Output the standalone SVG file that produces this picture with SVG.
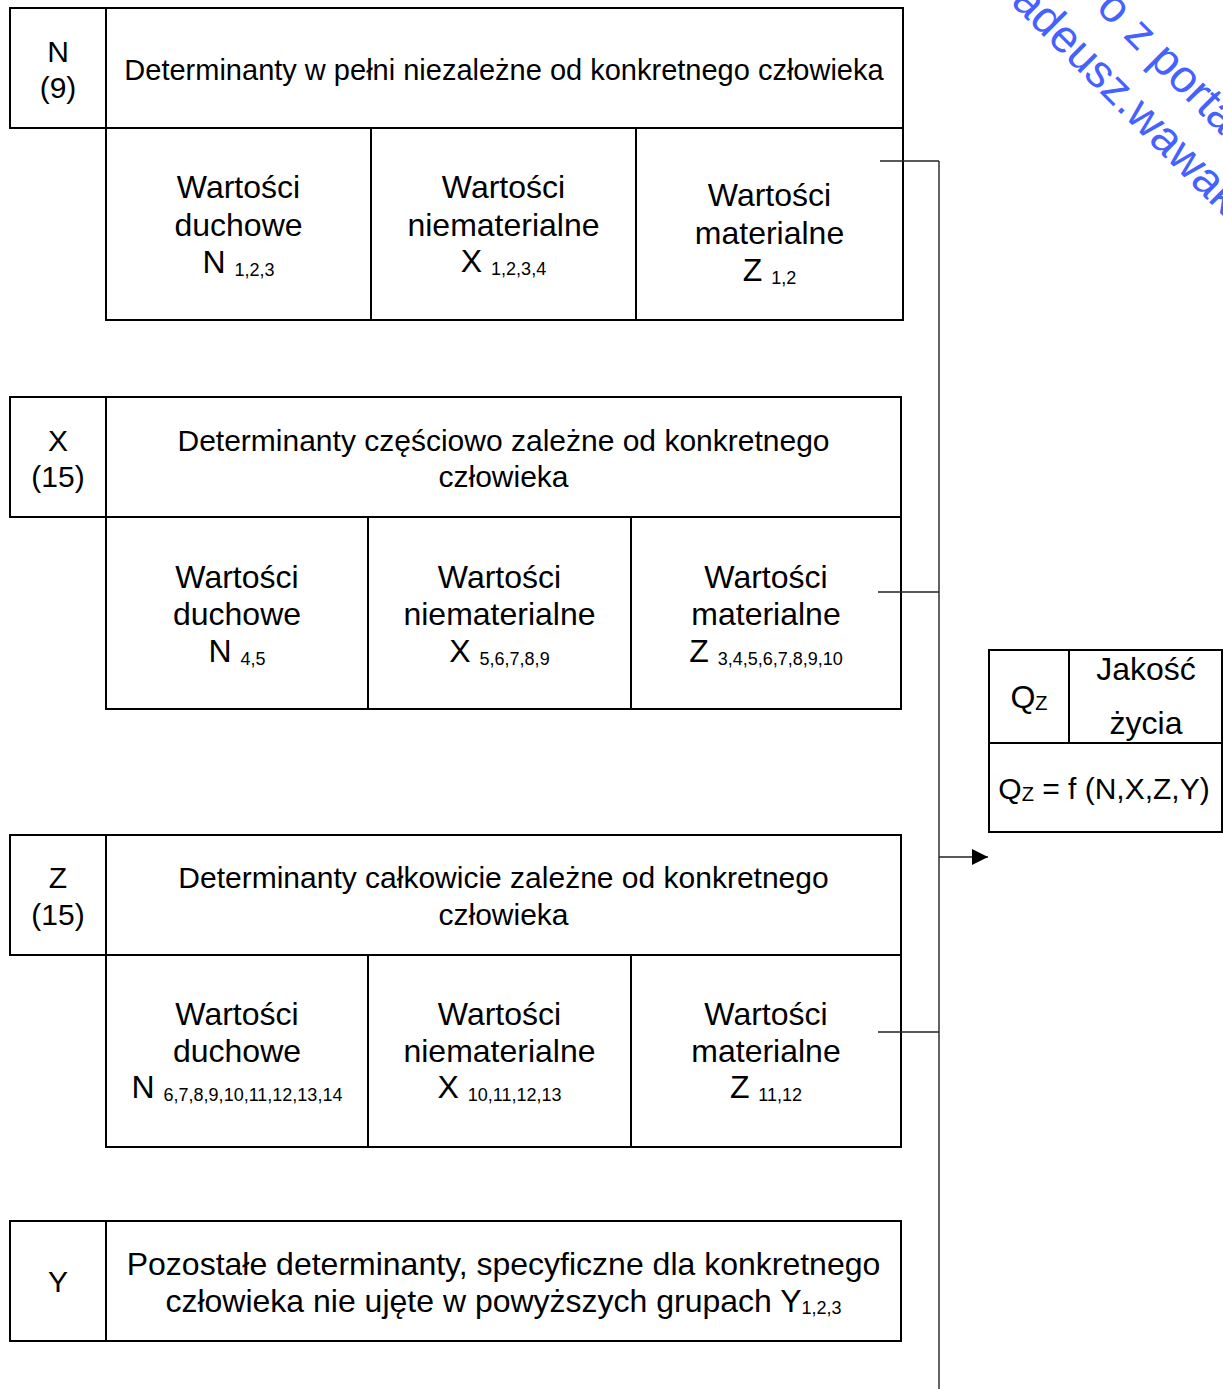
<svg xmlns="http://www.w3.org/2000/svg" width="1223" height="1389" viewBox="0 0 1223 1389">
<style>
  .box { fill: #ffffff; stroke: #000000; stroke-width: 2; }
  .ln { fill: none; stroke: #000000; stroke-width: 2; }
  .con { fill: none; stroke: #222222; stroke-width: 1.4; }
  text { font-family: "Liberation Sans", Arial, sans-serif; fill: #000000; text-anchor: middle; }
  .t32 { font-size: 32px; }
  .t30 { font-size: 30px; }
  .t29 { font-size: 29px; }
  .sub { font-size: 18px; }
  .subq { font-size: 20px; }
  .wm { font-size: 46px; fill: #4561ff; text-anchor: start; }
</style>
<defs>
  <marker id="arr" viewBox="0 0 16 16" refX="16" refY="8" markerWidth="16" markerHeight="16" markerUnits="userSpaceOnUse" orient="auto">
    <path d="M0,0 L16,8 L0,16 Z" fill="#000000"/>
  </marker>
</defs>
<rect width="1223" height="1389" fill="#ffffff"/>

<!-- watermark -->
<g id="watermark">
  <text class="wm" transform="translate(1095,9) rotate(45)">o z porta</text>
  <text class="wm" transform="translate(1010,3) rotate(45)">adeusz.wawak</text>
</g>

<!-- Block N -->
<g id="block-N">
  <rect class="box" x="10" y="8" width="893" height="120"/>
  <line class="ln" x1="106" y1="8" x2="106" y2="128"/>
  <rect class="box" x="106" y="128" width="797" height="192"/>
  <line class="ln" x1="371" y1="128" x2="371" y2="320"/>
  <line class="ln" x1="636" y1="128" x2="636" y2="320"/>
  <text class="t30" x="58" y="62">N</text>
  <text class="t30" x="58" y="98">(9)</text>
  <text class="t29" x="504" y="80">Determinanty w pełni niezależne od konkretnego człowieka</text>
  <text class="t32" x="238.5" y="198">Wartości</text>
  <text class="t32" x="238.5" y="236">duchowe</text>
  <text class="t32" x="238.5" y="273">N <tspan class="sub" dy="3">1,2,3</tspan></text>
  <text class="t32" x="503.5" y="198">Wartości</text>
  <text class="t32" x="503.5" y="236">niematerialne</text>
  <text class="t32" x="503.5" y="272">X <tspan class="sub" dy="3">1,2,3,4</tspan></text>
  <text class="t32" x="769.5" y="206">Wartości</text>
  <text class="t32" x="769.5" y="244">materialne</text>
  <text class="t32" x="769.5" y="281">Z <tspan class="sub" dy="3">1,2</tspan></text>
</g>

<!-- Block X -->
<g id="block-X">
  <rect class="box" x="10" y="397" width="891" height="120"/>
  <line class="ln" x1="106" y1="397" x2="106" y2="517"/>
  <rect class="box" x="106" y="517" width="795" height="192"/>
  <line class="ln" x1="368" y1="517" x2="368" y2="709"/>
  <line class="ln" x1="631" y1="517" x2="631" y2="709"/>
  <text class="t30" x="58" y="451">X</text>
  <text class="t30" x="58" y="487">(15)</text>
  <text class="t30" x="503.5" y="451">Determinanty częściowo zależne od konkretnego</text>
  <text class="t30" x="503.5" y="487">człowieka</text>
  <text class="t32" x="237" y="588">Wartości</text>
  <text class="t32" x="237" y="625">duchowe</text>
  <text class="t32" x="237" y="662">N <tspan class="sub" dy="3">4,5</tspan></text>
  <text class="t32" x="499.5" y="588">Wartości</text>
  <text class="t32" x="499.5" y="625">niematerialne</text>
  <text class="t32" x="499.5" y="662">X <tspan class="sub" dy="3">5,6,7,8,9</tspan></text>
  <text class="t32" x="766" y="588">Wartości</text>
  <text class="t32" x="766" y="625">materialne</text>
  <text class="t32" x="766" y="662">Z <tspan class="sub" dy="3">3,4,5,6,7,8,9,10</tspan></text>
</g>

<!-- Block Z -->
<g id="block-Z">
  <rect class="box" x="10" y="835" width="891" height="120"/>
  <line class="ln" x1="106" y1="835" x2="106" y2="955"/>
  <rect class="box" x="106" y="955" width="795" height="192"/>
  <line class="ln" x1="368" y1="955" x2="368" y2="1147"/>
  <line class="ln" x1="631" y1="955" x2="631" y2="1147"/>
  <text class="t30" x="58" y="888">Z</text>
  <text class="t30" x="58" y="925">(15)</text>
  <text class="t30" x="503.5" y="888">Determinanty całkowicie zależne od konkretnego</text>
  <text class="t30" x="503.5" y="925">człowieka</text>
  <text class="t32" x="237" y="1025">Wartości</text>
  <text class="t32" x="237" y="1062">duchowe</text>
  <text class="t32" x="237" y="1098">N <tspan class="sub" dy="3">6,7,8,9,10,11,12,13,14</tspan></text>
  <text class="t32" x="499.5" y="1025">Wartości</text>
  <text class="t32" x="499.5" y="1062">niematerialne</text>
  <text class="t32" x="499.5" y="1098">X <tspan class="sub" dy="3">10,11,12,13</tspan></text>
  <text class="t32" x="766" y="1025">Wartości</text>
  <text class="t32" x="766" y="1062">materialne</text>
  <text class="t32" x="766" y="1098">Z <tspan class="sub" dy="3">11,12</tspan></text>
</g>

<!-- Block Y -->
<g id="block-Y">
  <rect class="box" x="10" y="1221" width="891" height="120"/>
  <line class="ln" x1="106" y1="1221" x2="106" y2="1341"/>
  <text class="t30" x="58" y="1292">Y</text>
  <text class="t32" x="503.5" y="1275">Pozostałe determinanty, specyficzne dla konkretnego</text>
  <text class="t32" x="503.5" y="1312">człowieka nie ujęte w powyższych grupach Y<tspan class="sub" dy="2">1,2,3</tspan></text>
</g>

<!-- Qz box -->
<g id="block-Qz">
  <rect class="box" x="989" y="650" width="233" height="182"/>
  <line class="ln" x1="989" y1="743" x2="1222" y2="743"/>
  <line class="ln" x1="1069" y1="650" x2="1069" y2="743"/>
  <text class="t32" x="1029" y="708">Q<tspan class="subq" dy="2">Z</tspan></text>
  <text class="t32" x="1146" y="680">Jakość</text>
  <text class="t32" x="1146" y="734">życia</text>
  <text class="t30" x="1104" y="799">Q<tspan class="subq" dy="2">Z</tspan><tspan dy="-2"> = f (N,X,Z,Y)</tspan></text>
</g>

<!-- connectors -->
<g id="connectors">
  <line class="con" x1="939" y1="161" x2="939" y2="1389"/>
  <line class="con" x1="880" y1="161" x2="939" y2="161"/>
  <line class="con" x1="878" y1="592" x2="939" y2="592"/>
  <line class="con" x1="878" y1="1032" x2="939" y2="1032"/>
  <line class="con" x1="939" y1="857" x2="988" y2="857" marker-end="url(#arr)"/>
</g>
</svg>
